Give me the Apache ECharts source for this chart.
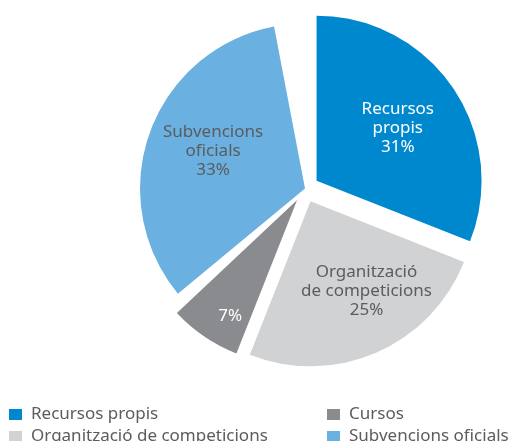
<!DOCTYPE html>
<html>
<head>
<meta charset="utf-8">
<script src="https://cdn.jsdelivr.net/npm/echarts@6/dist/echarts.min.js"></script>
<style>
  html, body { margin: 0; padding: 0; background: #fff; }
  #chart { width: 512px; height: 441px; }
</style>
</head>
<body>
<div id="chart"></div>
<script>
// Pie data, clockwise from 12 o'clock
var names = ['Recursos propis', 'Organització de competicions', 'Cursos', 'Subvencions oficials'];
var values = [31, 25, 7, 33];
var sliceTitles = ['Recursos\npropis', 'Organització\nde competicions', '', 'Subvencions\noficials'];
var colors = ['#0088ce', '#d1d2d4', '#8a8b8e', '#6ab0e0'];
var labelColors = ['#ffffff', '#5b5c5e', '#ffffff', '#5b5c5e'];
var exploded = [true, true, true, false];
// the shares only add up to 96%, the rest is left empty
var gapAfterCursos = 1;
var gapAfterSubvencions = 3;

var FONT = '"Noto Sans", "Open Sans", sans-serif';
var CENTER = [305, 188.5];
// small nudges of the inside labels
var labelNudge = {
    'Recursos propis': [-4, 5],
    'Organització de competicions': [15, -5],
    'Cursos': [9, 4],
    'Subvencions oficials': [5, -2]
};

// which = 'shape' | 'label' | 'labelFar'
function buildData(which) {
    var out = [];
    for (var i = 0; i < names.length; i++) {
        var showLabel = which !== 'shape' && ((which === 'labelFar') === (names[i] === 'Cursos'));
        var title = sliceTitles[i] ? sliceTitles[i] + '\n' : '';
        var lbl = {
            show: showLabel,
            formatter: title + values[i] + '%',
            color: labelColors[i],
            offset: labelNudge[names[i]]
        };
        out.push({
            name: names[i],
            value: values[i],
            selected: exploded[i],
            itemStyle: { color: which === 'shape' ? colors[i] : 'rgba(0,0,0,0)' },
            label: lbl,
            select: {
                itemStyle: { color: which === 'shape' ? colors[i] : 'rgba(0,0,0,0)' },
                label: lbl
            }
        });
        if (names[i] === 'Cursos') {
            out.push({ name: 'gap1', value: gapAfterCursos, itemStyle: { color: 'rgba(0,0,0,0)' }, label: { show: false } });
        }
    }
    out.push({ name: 'gap2', value: gapAfterSubvencions, itemStyle: { color: 'rgba(0,0,0,0)' }, label: { show: false } });
    return out;
}

function pieSeries(which, radius) {
    return {
        type: 'pie',
        center: CENTER,
        radius: radius,
        startAngle: 90,
        clockwise: true,
        selectedMode: 'multiple',
        selectedOffset: 14,
        silent: true,
        avoidLabelOverlap: false,
        emphasis: { disabled: true },
        labelLine: { show: false },
        label: {
            position: 'inside',
            fontFamily: FONT,
            fontSize: 17,
            lineHeight: 19,
            align: 'center'
        },
        data: buildData(which)
    };
}

var chart = echarts.init(document.getElementById('chart'));

var legendBase = {
    orient: 'vertical',
    top: 406,
    height: 60,
    padding: 0,
    itemWidth: 13,
    itemHeight: 11,
    itemGap: 5,
    icon: 'rect',
    selectedMode: false,
    textStyle: { fontFamily: FONT, fontSize: 17, lineHeight: 15, color: '#5b5c5e', padding: [0, 0, 0, 4] }
};

function legendItems(idx) {
    return idx.map(function (i) {
        return { name: names[i], itemStyle: { color: colors[i] } };
    });
}

chart.setOption({
    animation: false,
    legend: [
        Object.assign({}, legendBase, { left: 9, data: legendItems([0, 1]) }),
        Object.assign({}, legendBase, { left: 327, data: legendItems([2, 3]) })
    ],
    series: [
        pieSeries('shape', [0, 165]),
        pieSeries('label', [76, 124]),
        pieSeries('labelFar', [108, 156])
    ]
});
</script>
</body>
</html>
